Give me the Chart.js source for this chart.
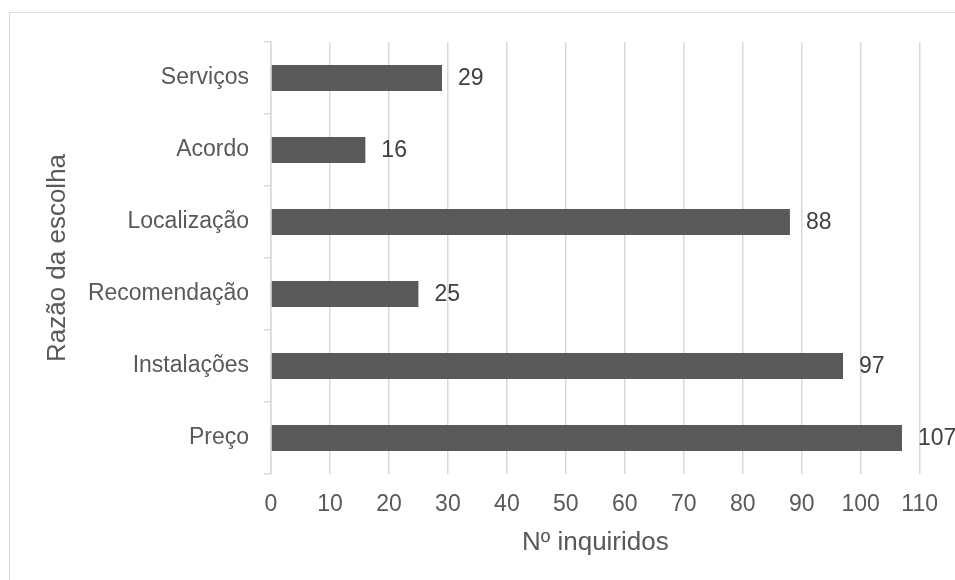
<!DOCTYPE html>
<html>
<head>
<meta charset="utf-8">
<script src="https://cdn.jsdelivr.net/npm/chart.js@4.4.1/dist/chart.umd.min.js"></script>
<style>
  html, body { margin: 0; padding: 0; background: #fff; }
  #wrap { position: relative; width: 955px; height: 580px; overflow: hidden; }
  #frame { position: absolute; left: 9px; top: 12px; width: 1000px; height: 1000px; border: 1.5px solid #d9d9d9; }
  #myChart { position: absolute; left: 0; top: 0; }
</style>
</head>
<body>
<div id="wrap">
  <div id="frame"></div>
  <canvas id="myChart" width="955" height="580"></canvas>
</div>
<script>
'use strict';
// data
const categories = ['Serviços', 'Acordo', 'Localização', 'Recomendação', 'Instalações', 'Preço'];
const respondents = [29, 16, 88, 25, 97, 107];
const xTitle = 'Nº inquiridos';
const yTitle = 'Razão da escolha';

const fontFamily = '"Liberation Sans", Arial, sans-serif';
const textGrey = '#595959';
const lineGrey = '#d9d9d9';

// writes the value just after the end of each bar
const valueLabels = {
  id: 'valueLabels',
  afterDatasetsDraw(chart) {
    const c = chart.ctx;
    const meta = chart.getDatasetMeta(0);
    c.save();
    c.font = '23px ' + fontFamily;
    c.fillStyle = '#404040';
    c.textAlign = 'left';
    c.textBaseline = 'middle';
    meta.data.forEach((bar, i) => {
      c.fillText(String(respondents[i]), bar.x + 16, bar.y + 1);
    });
    c.restore();
  },
};

const data = {
  labels: categories,
  datasets: [
    {
      label: xTitle,
      data: respondents,
      backgroundColor: '#595959',
      borderWidth: 0,
      barPercentage: 0.36,
      categoryPercentage: 1,
    },
  ],
};

const config = {
  type: 'bar',
  data: data,
  plugins: [valueLabels],
  options: {
    indexAxis: 'y',
    responsive: false,
    animation: false,
    layout: {
      padding: { left: 42, top: 42, right: 35, bottom: 22 },
    },
    plugins: {
      legend: { display: false },
      tooltip: { enabled: false },
    },
    scales: {
      x: {
        min: 0,
        max: 110,
        ticks: {
          stepSize: 10,
          padding: 17,
          color: textGrey,
          font: { family: fontFamily, size: 23 },
        },
        grid: { color: lineGrey, lineWidth: 1.5, drawTicks: false },
        border: { display: false },
        title: {
          display: true,
          text: xTitle,
          color: textGrey,
          padding: 0,
          font: { family: fontFamily, size: 26 },
        },
        afterFit(scale) {
          scale.height = 580 - 22 - 474;
        },
      },
      y: {
        ticks: {
          padding: 15,
          color: textGrey,
          font: { family: fontFamily, size: 23 },
        },
        grid: {
          offset: true,
          drawOnChartArea: false,
          drawTicks: true,
          tickLength: 7,
          color: lineGrey,
          lineWidth: 1.5,
        },
        border: { display: true, color: lineGrey, width: 1.5 },
        title: {
          display: true,
          text: yTitle,
          color: textGrey,
          padding: 0,
          font: { family: fontFamily, size: 26 },
        },
        afterFit(scale) {
          scale.width = 271 - 42;
        },
      },
    },
  },
};

const myChart = new Chart(document.getElementById('myChart'), config);
</script>
</body>
</html>
